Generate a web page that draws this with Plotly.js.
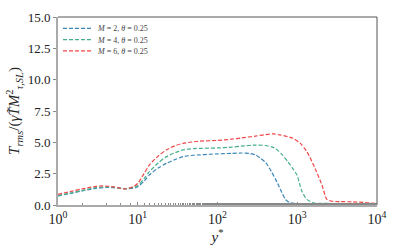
<!DOCTYPE html>
<html><head><meta charset="utf-8">
<script src="https://cdn.plot.ly/plotly-3.0.1.min.js"></script>
<style>html,body{margin:0;padding:0;background:#fff}</style>
</head><body><div id="chart" style="width:399px;height:249px"></div>
<script>
const seriesNames = ["<i>M</i> = 2, <i>θ</i> = 0.25", "<i>M</i> = 4, <i>θ</i> = 0.25", "<i>M</i> = 6, <i>θ</i> = 0.25"];
const x_M2 = [1,1.5,2,3,4,5,7,9,10,12,14,18,23,30,37,50,60,80,100,150,200,250,300,340,400,480,560,640,710,800,900,1000,1500,2000,3000,5000,10000];
const y_M2 = [0.72,0.95,1.12,1.33,1.4,1.38,1.3,1.35,1.45,1.9,2.4,2.95,3.33,3.65,3.86,3.97,4.0,4.05,4.08,4.12,4.15,4.12,4.0,3.77,3.4,2.6,1.8,1.0,0.45,0.2,0.14,0.12,0.12,0.12,0.12,0.12,0.1];
const x_M4 = [1,1.5,2,3,4,5,7,9,10,12,14,18,23,30,37,50,60,100,150,200,300,400,500,560,650,765,880,990,1080,1150,1320,1580,2000,3000,5000,10000];
const y_M4 = [0.75,0.98,1.15,1.38,1.45,1.42,1.3,1.42,1.55,2.1,2.66,3.35,3.86,4.2,4.4,4.5,4.52,4.55,4.62,4.7,4.78,4.75,4.6,4.4,4.0,3.45,2.9,2.4,1.6,1.06,0.45,0.18,0.13,0.12,0.12,0.1];
const x_M6 = [1,1.5,2,3,3.7,5,7,9,10,12,14,18,23,30,37,60,100,150,200,300,400,500,600,886,1100,1320,1670,2040,2350,2700,3500,5000,7000,10000];
const y_M6 = [0.85,1.1,1.28,1.48,1.52,1.45,1.28,1.5,1.73,2.5,3.2,3.9,4.4,4.75,4.92,5.1,5.15,5.25,5.35,5.5,5.62,5.67,5.6,5.32,4.9,4.26,2.93,1.6,0.45,0.3,0.27,0.25,0.2,0.12];
const xTickVals = [1,10,100,1000,10000];
const xTickText = ["10<sup>0</sup>","10<sup>1</sup>","10<sup>2</sup>","10<sup>3</sup>","10<sup>4</sup>"];
const colors = ["#3a86b8","#45b088","#f04848"];

const xs=[x_M2,x_M4,x_M6], ys=[y_M2,y_M4,y_M6];
const legendIds=['legend','legend2','legend3'];
const traces = xs.map((x,i)=>({x:x,y:ys[i],type:'scatter',mode:'lines',name:seriesNames[i],legend:legendIds[i],
  line:{color:colors[i],width:1.2,dash:'4px,2px',shape:'spline',smoothing:0.7}}));
const font = "Liberation Serif, DejaVu Serif, serif";
function leg(y){return {x:0.0,y:y,xanchor:'left',yanchor:'middle',bgcolor:'rgba(0,0,0,0)',font:{size:8,color:'#444'},itemwidth:30,borderwidth:0};}
const layout = {
  width:399,height:249,margin:{l:58,r:22,t:17,b:44},
  paper_bgcolor:'#fff',plot_bgcolor:'#fff',
  font:{family:font,size:13,color:'#222'},
  showlegend:true,
  legend:leg(0.94),legend2:leg(0.88),legend3:leg(0.82),
  xaxis:{type:'log',range:[0,4],tickvals:xTickVals,ticktext:xTickText,ticks:'inside',ticklen:3,tickcolor:'#888',
    showgrid:false,zeroline:false,showline:true,linecolor:'#aaa',linewidth:2,tickfont:{size:14},
    minor:{ticks:'inside',ticklen:2,tickcolor:'#888',showgrid:false},
    title:{text:'<i>y</i><sup>*</sup>',font:{size:15},standoff:0}},
  yaxis:{range:[0,15],dtick:2.5,tickformat:'.1f',ticks:'outside',ticklen:3,tickcolor:'#888',tickfont:{size:13},
    showgrid:false,zeroline:false,showline:true,linecolor:'#aaa',linewidth:2,
    title:{text:'<i>T</i><sub><i>rms</i></sub>/(<i>γ</i><i>T̃</i><i>M</i><sup>2</sup><sub><i>τ,SL</i></sub>)',font:{size:15},standoff:4}},
  shapes:[
    {type:'line',xref:'paper',yref:'paper',x0:0,x1:1,y0:1,y1:1,line:{color:'#555',width:1}},
    {type:'line',xref:'paper',yref:'paper',x0:1,x1:1,y0:0,y1:1,line:{color:'#555',width:1}}
  ]
};
Plotly.newPlot('chart',traces,layout,{displayModeBar:false,staticPlot:true});
</script></body></html>
